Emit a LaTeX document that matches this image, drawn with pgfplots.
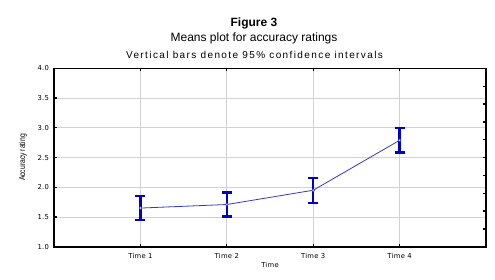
\documentclass[border=0pt]{standalone}
\usepackage{fontspec}
\usepackage{graphicx}
\setmainfont{Liberation Sans}
\newfontfamily\tickfont[LetterSpace=4]{DejaVu Sans}
\newfontfamily\subfont[LetterSpace=14]{Liberation Sans}
\usepackage{pgfplots}
\pgfplotsset{compat=1.18}
\definecolor{barblue}{RGB}{0,0,200}
\definecolor{lineblue}{RGB}{55,55,205}
\definecolor{gridgray}{RGB}{210,210,210}
\pgfplotstableread{
x y e
1 1.65 0.20
2 1.71 0.20
3 1.95 0.21
4 2.79 0.205
}\means
\begin{document}
\begin{tikzpicture}
\useasboundingbox (-54pt,-32.3pt) rectangle (441pt,246.7pt);
\begin{axis}[
  at={(0,0)}, anchor=south west,
  scale only axis, width=432pt, height=178.3pt,
  xmin=0, xmax=5, ymin=1, ymax=4,
  xtick={1,2,3,4},
  xticklabels={Time 1,Time 2,Time 3,Time 4},
  ytick={1,1.5,2,2.5,3,3.5,4},
  yticklabel style={/pgf/number format/fixed,/pgf/number format/fixed zerofill,/pgf/number format/precision=1, xshift=-1.5pt},
  /pgf/number format/assume math mode=true,
  ticklabel style={font=\tickfont\fontsize{6.8}{8}\selectfont},
  xticklabel style={yshift=-2.7pt},
  xtick pos=both, ytick pos=left,
  tick align=inside,
  major tick length=3pt,
  tick style={black, line width=1.3pt},
  grid=major,
  grid style={gridgray, line width=0.7pt},
  axis line style={black, line width=1.7pt},
  xlabel={Time},
  xlabel style={font=\tickfont\fontsize{6.8}{8}\selectfont, at={(axis description cs:0.5,-0.1026)}, anchor=center},
  ylabel={\scalebox{0.8}[1]{Accuracy rating}},
  ylabel style={font=\fontsize{8.5}{9}\selectfont, at={(axis description cs:-0.0718,0.5)}, anchor=center},
]
\addplot[color=lineblue, line width=0.8pt, mark=*, mark size=1.4pt,
  mark options={solid, fill=white, draw=lineblue, line width=0.6pt},
  error bars/.cd, y dir=both, y explicit,
  error bar style={color=barblue, line width=2.4pt},
  error mark options={rotate=90, mark size=5pt, line width=2.4pt, color=barblue}]
  table[x=x, y=y, y error=e] {\means};
\end{axis}
\begin{axis}[
  at={(0,0)}, anchor=south west,
  scale only axis, width=432pt, height=178.3pt,
  xmin=0, xmax=5, ymin=1, ymax=4,
  axis x line=none, axis y line*=right,
  ytick={1.3,1.6,1.9,2.2,2.5,2.8,3.1,3.4,3.7},
  yticklabels={},
  tick align=inside,
  major tick length=3pt,
  tick style={black, line width=1.3pt},
  axis line style={black, line width=1.7pt},
]
\end{axis}
\node[anchor=base, font=\bfseries\fontsize{12}{14}\selectfont] at (200pt,220pt) {Figure 3};
\node[anchor=base, font=\fontsize{12}{14}\selectfont] at (200pt,205pt) {Means plot for accuracy ratings};
\node[anchor=base, font=\subfont\fontsize{10}{12}\selectfont] at (200.5pt,188pt) {Vertical bars denote 95\% confidence intervals};
\end{tikzpicture}
\end{document}
